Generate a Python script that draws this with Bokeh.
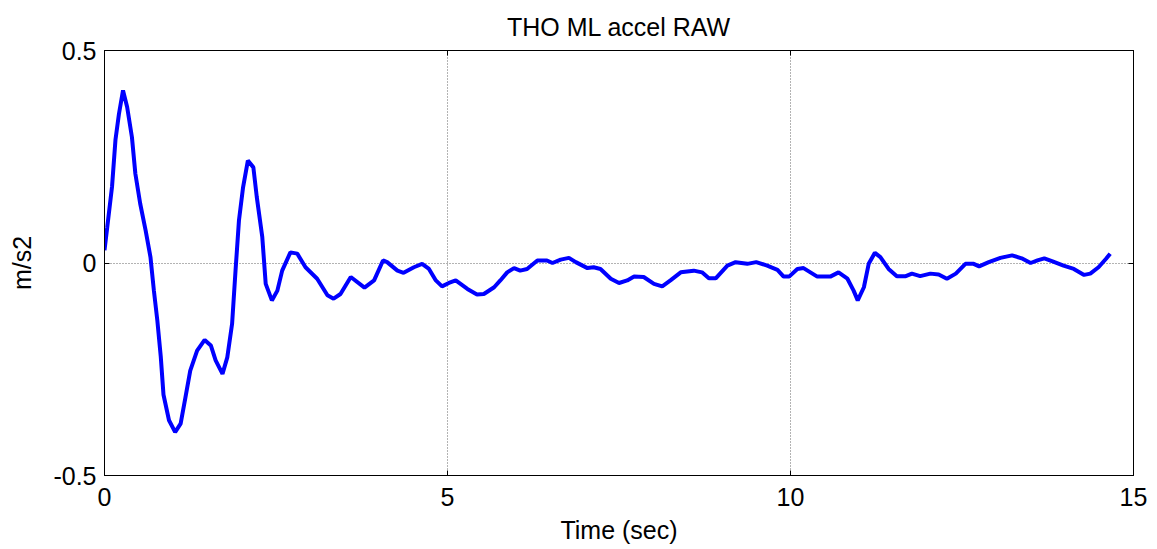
from bokeh.plotting import figure
from bokeh.models import FixedTicker, LinearAxis, Range1d
from bokeh.embed import file_html
from bokeh.resources import INLINE

title_text = "THO ML accel RAW"
x_label = "Time (sec)"
y_label = "m/s2"
x_ticks = [0, 5, 10, 15]
y_ticks = [-0.5, 0, 0.5]
y_tick_labels = {-0.5: "-0.5", 0: "0", 0.5: "0.5"}

time_s = [0.00, 0.04, 0.11, 0.16, 0.21, 0.27, 0.33, 0.40, 0.45, 0.52, 0.60, 0.67, 0.72, 0.77,
          0.82, 0.86, 0.94, 1.03, 1.11, 1.18, 1.25, 1.35, 1.46, 1.55, 1.62, 1.72, 1.79, 1.86,
          1.91, 1.96, 2.02, 2.09, 2.17, 2.22, 2.30, 2.35, 2.44, 2.52, 2.59, 2.71, 2.81, 2.93,
          3.10, 3.25, 3.34, 3.44, 3.59, 3.79, 3.93, 4.06, 4.12, 4.27, 4.36, 4.51, 4.63, 4.73,
          4.83, 4.92, 5.02, 5.12, 5.29, 5.43, 5.53, 5.68, 5.77, 5.87, 5.97, 6.06, 6.16, 6.31,
          6.45, 6.53, 6.65, 6.77, 6.87, 7.04, 7.13, 7.23, 7.38, 7.50, 7.62, 7.72, 7.86, 8.01,
          8.13, 8.25, 8.40, 8.59, 8.71, 8.81, 8.91, 9.08, 9.20, 9.37, 9.50, 9.66, 9.81, 9.90,
          9.98, 10.10, 10.19, 10.39, 10.58, 10.70, 10.83, 10.92, 10.98, 11.07, 11.14, 11.23,
          11.31, 11.43, 11.55, 11.68, 11.77, 11.89, 12.04, 12.16, 12.28, 12.41, 12.55, 12.67,
          12.75, 12.89, 13.06, 13.23, 13.37, 13.50, 13.60, 13.70, 13.82, 13.98, 14.13, 14.28,
          14.37, 14.49, 14.60, 14.66]
accel = [0.030, 0.084, 0.180, 0.290, 0.350, 0.406, 0.367, 0.296, 0.210, 0.140, 0.076, 0.014,
         -0.065, -0.135, -0.220, -0.310, -0.370, -0.398, -0.378, -0.316, -0.253, -0.206, -0.181,
         -0.194, -0.229, -0.261, -0.222, -0.143, -0.018, 0.100, 0.178, 0.241, 0.225, 0.155,
         0.061, -0.049, -0.088, -0.065, -0.018, 0.025, 0.022, -0.010, -0.037, -0.076, -0.084,
         -0.073, -0.033, -0.058, -0.041, 0.006, 0.002, -0.018, -0.023, -0.010, -0.002, -0.014,
         -0.041, -0.055, -0.047, -0.041, -0.061, -0.074, -0.073, -0.057, -0.041, -0.022, -0.012,
         -0.018, -0.014, 0.006, 0.006, 0.000, 0.008, 0.012, 0.002, -0.012, -0.010, -0.014,
         -0.037, -0.047, -0.041, -0.032, -0.033, -0.049, -0.055, -0.041, -0.022, -0.018, -0.022,
         -0.036, -0.036, -0.006, 0.002, -0.002, 0.002, -0.006, -0.016, -0.032, -0.032, -0.014,
         -0.012, -0.032, -0.032, -0.022, -0.037, -0.065, -0.088, -0.057, -0.002, 0.024, 0.014,
         -0.014, -0.031, -0.031, -0.025, -0.031, -0.025, -0.027, -0.037, -0.025, -0.002, -0.002,
         -0.008, 0.002, 0.012, 0.018, 0.011, 0.000, 0.006, 0.011, 0.004, -0.006, -0.014, -0.028,
         -0.025, -0.010, 0.010, 0.022]

FONT = "Liberation Sans"
FS = "25px"

p = figure(width=1149, height=549, output_backend="svg", toolbar_location=None,
           x_range=Range1d(0, 15), y_range=Range1d(-0.5, 0.5),
           min_border_left=104, min_border_right=16, min_border_top=50, min_border_bottom=74)
p.title.text = title_text
p.title.text_font = FONT
p.title.text_font_size = FS
p.title.text_font_style = "normal"
p.title.text_color = "black"
p.title.align = "center"
p.title.offset = 0
p.title.standoff = 20
p.title.text_line_height = 0.7

p.outline_line_color = "black"
p.outline_line_width = 1
p.background_fill_color = "white"
p.border_fill_color = "white"

for ax in (p.xaxis[0], p.yaxis[0]):
    ax.major_label_text_font = FONT
    ax.major_label_text_font_size = FS
    ax.major_label_text_color = "black"
    ax.axis_label_text_font = FONT
    ax.axis_label_text_font_size = FS
    ax.axis_label_text_font_style = "normal"
    ax.axis_label_text_color = "black"
    ax.axis_line_color = "black"
    ax.major_tick_in = 5
    ax.major_tick_out = 0
    ax.minor_tick_line_color = None
    ax.major_tick_line_color = "black"

p.xaxis[0].ticker = FixedTicker(ticks=x_ticks)
p.yaxis[0].ticker = FixedTicker(ticks=y_ticks)
p.yaxis[0].major_label_overrides = y_tick_labels
p.xaxis[0].axis_label = x_label
p.yaxis[0].axis_label = y_label
p.xaxis[0].major_label_standoff = 12
p.xaxis[0].axis_label_standoff = 7
p.yaxis[0].major_label_standoff = 8
p.yaxis[0].axis_label_standoff = 14

blank_x = {t: "" for t in x_ticks}
blank_y = {t: "" for t in y_ticks}
top_ax = LinearAxis(ticker=FixedTicker(ticks=x_ticks), major_label_overrides=blank_x,
                    major_tick_in=5, major_tick_out=0, minor_tick_line_color=None,
                    major_label_standoff=0, major_label_text_font_size="1px")
right_ax = LinearAxis(ticker=FixedTicker(ticks=y_ticks), major_label_overrides=blank_y,
                      major_tick_in=5, major_tick_out=0, minor_tick_line_color=None,
                      major_label_standoff=0, major_label_text_font_size="1px")
p.add_layout(top_ax, "above")
p.add_layout(right_ax, "right")

p.xgrid[0].ticker = FixedTicker(ticks=[5, 10])
p.ygrid[0].ticker = FixedTicker(ticks=[0])
for g in (p.xgrid[0], p.ygrid[0]):
    g.grid_line_color = "#666666"
    g.grid_line_dash = "1 2"
    g.grid_line_width = 1

p.line(time_s, accel, line_color="#0000ff", line_width=4)

open("out.html", "w").write(file_html(p, INLINE))
